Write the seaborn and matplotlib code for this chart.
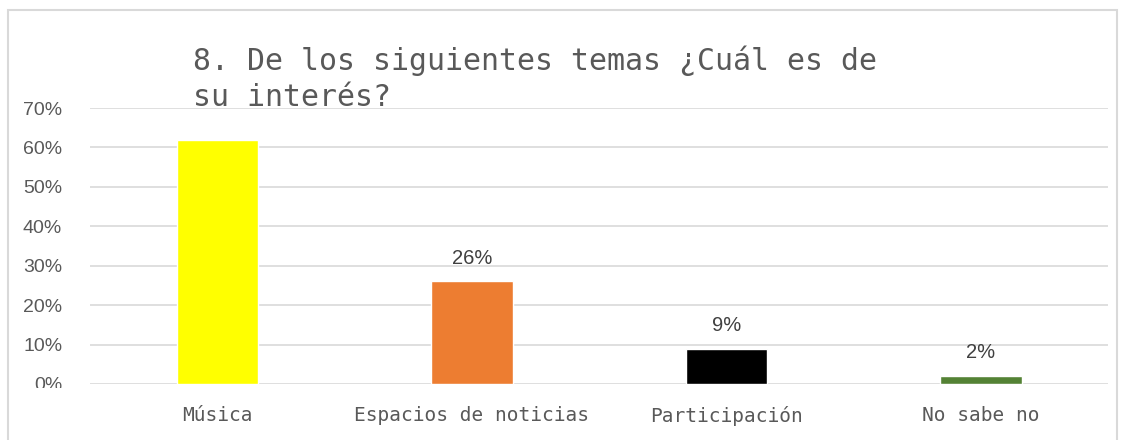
import matplotlib
matplotlib.use("Agg")
import matplotlib.pyplot as plt
import pandas as pd
import seaborn as sns
from matplotlib.patches import Rectangle

# data
categories = ["Música", "Espacios de noticias", "Participación", "No sabe no"]
values = [0.62, 0.26, 0.09, 0.02]
colors = ["#FFFF00", "#ED7D31", "#000000", "#548235"]
yticks = [0, 0.1, 0.2, 0.3, 0.4, 0.5, 0.6, 0.7]
title = "8. De los siguientes temas ¿Cuál es de\nsu interés?"

sns.set_style("white")
mono = ["DejaVu Sans Mono", "DejaVu Sans"]
narrow = ["Liberation Sans", "DejaVu Sans"]

df = pd.DataFrame({"cat": categories, "val": values})

fig = plt.figure(figsize=(11.25, 4.4), dpi=100)
ax = fig.add_axes([0.080, 0.1273, 0.905, 0.6272])

sns.barplot(data=df, x="cat", y="val", hue="cat", palette=colors,
            legend=False, width=0.32, saturation=1, ax=ax)

ax.set_ylim(0, 0.7)
ax.set_xlim(-0.5, 3.5)
ax.set_yticks(yticks)
ax.set_yticklabels([f"{int(round(t * 100))}%" for t in yticks],
                   family=narrow, fontsize=14, color="#595959")
ax.set_xticks(range(len(categories)))
ax.set_xticklabels(categories, family=mono, fontsize=14, color="#595959")
ax.tick_params(axis="both", length=0)
ax.tick_params(axis="y", pad=20)
ax.tick_params(axis="x", pad=16)
ax.set_xlabel("")
ax.set_ylabel("")
for s in ax.spines.values():
    s.set_visible(False)
ax.grid(axis="y", color="#d9d9d9", linewidth=1.2)
ax.set_axisbelow(True)

# data labels (first one hidden under the title in the original)
for i, v in enumerate(values):
    if i == 0:
        continue
    ax.text(i, v + 0.035, f"{int(round(v * 100))}%", ha="center", va="bottom",
            family=narrow, fontsize=14.5, color="#404040")

fig.text(0.1715, 0.745, title, family=mono, fontsize=21.5, color="#595959",
         ha="left", va="bottom", linespacing=1.3)

# the 0% label is cut off at the plot area's bottom in the original
fig.add_artist(Rectangle((15 / 1125, 0), 60 / 1125, 1 - 388 / 440,
                         transform=fig.transFigure, facecolor="white",
                         edgecolor="none", zorder=5))

# chart border
fig.add_artist(Rectangle((8 / 1125, -0.01), 1109 / 1125, 0.988,
                         transform=fig.transFigure, fill=False,
                         edgecolor="#d9d9d9", linewidth=1.5, zorder=6))

fig.savefig("out.png", dpi=100)
